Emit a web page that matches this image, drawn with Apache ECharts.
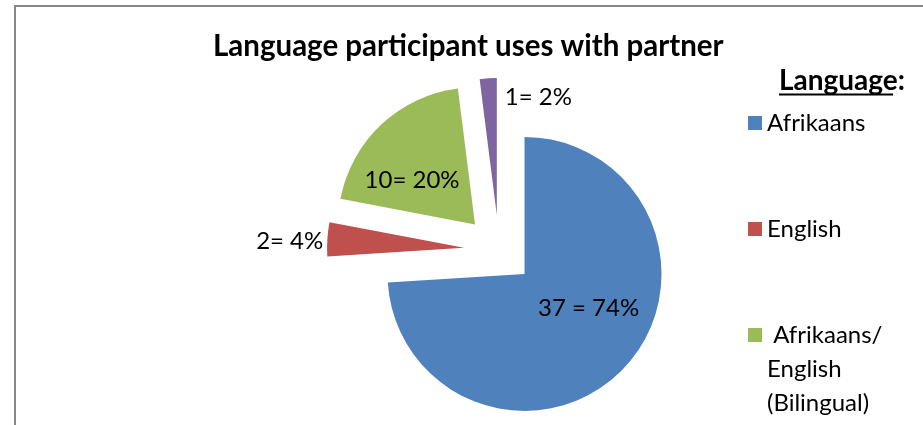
<!DOCTYPE html>
<html><head><meta charset="utf-8">
<script src="https://cdn.jsdelivr.net/npm/echarts@6/dist/echarts.min.js"></script>
<style>html,body{margin:0;padding:0;background:#fff}#chart{width:923px;height:425px}</style>
</head><body><div id="chart"></div>
<script>
// Language used with partner: respondent counts per language
const languages = ['Afrikaans', 'English', 'Afrikaans/English (Bilingual)', 'Other'];
const counts = [37, 2, 10, 1];
// legend wording; the leading blank lines keep the icon beside the first line
const legendText = ['Afrikaans', 'English', '\n\n Afrikaans/\nEnglish\n(Bilingual)'];
const labelJoin = [' = ', '= ', '= ', '= '];
const colors = ['#4F81BD', '#C0504D', '#9BBB59', '#8064A2'];

const FONT = 'Lato';

// label nudges away from each slice's default inside anchor
const labelShift = [[12, -15], [-103, -2], [-14, 8], [46, -46]];
const legendTops = [106, 212, 250];

const chart = echarts.init(document.getElementById('chart'), null, { renderer: 'canvas' });

chart.setOption({
  animation: false,
  backgroundColor: '#fff',
  title: [
    {
      text: 'Language participant uses with partner',
      left: 213, top: 31, padding: 0,
      textStyle: { fontFamily: FONT, fontWeight: 'bold', fontSize: 29.5, color: '#000' }
    },
    {
      text: 'Language:',
      left: 779, top: 67, padding: 0,
      textStyle: { fontFamily: FONT, fontWeight: 'bold', fontSize: 28, color: '#000' }
    }
  ],
  legend: legendText.map((t, i) => ({
    data: [languages[i]],
    left: 748, top: legendTops[i],
    orient: 'vertical', padding: 0,
    icon: 'rect', itemWidth: 14, itemHeight: 14,
    selectedMode: false,
    formatter: () => t,
    textStyle: { fontFamily: FONT, fontSize: 24, color: '#000', lineHeight: 34 }
  })),
  graphic: [
    {
      type: 'rect', silent: true,
      shape: { x: 15, y: 6, width: 1000, height: 1000 },
      style: { fill: 'none', stroke: '#878787', lineWidth: 2 }
    },
    {
      type: 'line', silent: true,
      shape: { x1: 779, y1: 94.5, x2: 893, y2: 94.5 },
      style: { stroke: '#000', lineWidth: 2 }
    }
  ],
  series: [{
    type: 'pie',
    center: [499, 250],
    radius: [0, 137],
    startAngle: 90,
    clockwise: true,
    selectedMode: 'multiple',
    selectedOffset: 35,
    avoidLabelOverlap: false,
    silent: true,
    emphasis: { disabled: true },
    labelLine: { show: false },
    label: {
      position: 'inside',
      fontFamily: FONT, fontSize: 24, color: '#000',
      formatter: p => p.value + labelJoin[p.dataIndex] + p.percent + '%'
    },
    labelLayout: p => ({ dx: labelShift[p.dataIndex][0], dy: labelShift[p.dataIndex][1] }),
    data: counts.map((v, i) => ({
      name: languages[i],
      value: v,
      selected: true,
      itemStyle: { color: colors[i] }
    }))
  }]
});
</script>
</body></html>
